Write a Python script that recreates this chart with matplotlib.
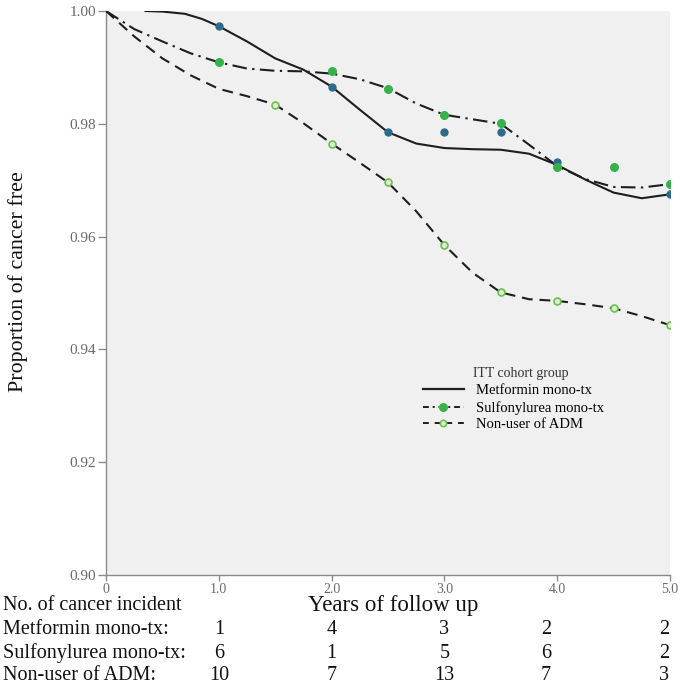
import matplotlib
matplotlib.use("Agg")
import matplotlib.pyplot as plt
from matplotlib.lines import Line2D
from matplotlib.transforms import blended_transform_factory

# observed proportions (dots)
met_x = [1.0, 2.0, 2.5, 3.0, 3.5, 4.0, 5.0]
met_y = [0.9973, 0.9866, 0.9785, 0.9785, 0.9785, 0.9732, 0.9675]
sul_x = [1.0, 2.0, 2.5, 3.0, 3.5, 4.0, 4.5, 5.0]
sul_y = [0.9909, 0.9893, 0.9862, 0.9816, 0.9802, 0.9723, 0.9723, 0.9693]
non_x = [1.5, 2.0, 2.5, 3.0, 3.5, 4.0, 4.5, 5.0]
non_y = [0.9834, 0.9765, 0.9696, 0.9585, 0.9501, 0.9486, 0.9473, 0.9443]

# fitted curves
met_cx = [0.35, 0.5, 0.7, 0.85, 1.0, 1.25, 1.5, 1.75, 2.0, 2.25, 2.5, 2.75,
          3.0, 3.25, 3.5, 3.75, 4.0, 4.25, 4.5, 4.75, 5.0]
met_cy = [1.0, 0.9999, 0.9995, 0.9986, 0.9973, 0.9946, 0.9916, 0.9896, 0.9866,
          0.9825, 0.9785, 0.9765, 0.9757, 0.9755, 0.9754, 0.9747, 0.9727,
          0.9701, 0.9678, 0.9668, 0.9675]
sul_cx = [0, 0.25, 0.5, 0.75, 1.0, 1.25, 1.5, 1.75, 2.0, 2.25, 2.5, 2.75,
          3.0, 3.25, 3.5, 3.75, 4.0, 4.25, 4.5, 4.75, 5.0]
sul_cy = [1.0, 0.9968, 0.9946, 0.9925, 0.9909, 0.9898, 0.9894, 0.9893, 0.9889,
          0.9879, 0.9863, 0.9836, 0.9816, 0.9808, 0.9800, 0.9763, 0.9725,
          0.9702, 0.9688, 0.9687, 0.9693]
non_cx = [0, 0.25, 0.5, 0.75, 1.0, 1.25, 1.5, 1.75, 2.0, 2.25, 2.5, 2.75,
          3.0, 3.25, 3.5, 3.75, 4.0, 4.25, 4.5, 4.75, 5.0]
non_cy = [1.0, 0.9955, 0.9916, 0.9886, 0.9862, 0.9849, 0.9834, 0.9801, 0.9765,
          0.9731, 0.9696, 0.9645, 0.9585, 0.9536, 0.9501, 0.9489, 0.9486,
          0.9480, 0.9473, 0.9459, 0.9443]

# number-at-risk style table under the axis
row_labels = ["Metformin mono-tx:", "Sulfonylurea mono-tx:", "Non-user of ADM:"]
met_counts = [1, 4, 3, 2, 2]
sul_counts = [6, 1, 5, 6, 2]
non_counts = [10, 7, 13, 7, 3]
count_pos = [1.0, 2.0, 3.0, 3.9, 4.95]

xticks = [0, 1, 2, 3, 4, 5]
xtick_labels = ["0", "1.0", "2.0", "3.0", "4.0", "5.0"]
yticks = [0.90, 0.92, 0.94, 0.96, 0.98, 1.00]

SERIF = "Liberation Serif"
INK = "#1e1e1e"
BLUE = "#2c6b8c"
GREEN = "#35b34a"
LGREEN = "#6cbf4e"

W, H = 685, 696
fig = plt.figure(figsize=(W / 100, H / 100), dpi=100)
ax = fig.add_axes([106 / W, 1 - 575 / H, 564 / W, 564 / H])
ax.set_facecolor("#f0f0f0")

ax.plot(met_cx, met_cy, color=INK, lw=1.5, zorder=3)
ax.plot(sul_cx, sul_cy, color=INK, lw=1.5, dashes=(7, 2.6, 1.1, 2.6), zorder=3)
ax.plot(non_cx, non_cy, color=INK, lw=1.5, dashes=(5.2, 3.3), zorder=3)

ax.plot(met_x, met_y, "o", ms=5, color=BLUE, mec=BLUE, zorder=4)
ax.plot(sul_x, sul_y, "o", ms=5.5, color=GREEN, mec=GREEN, zorder=4)
ax.plot(non_x, non_y, "o", ms=5, mfc="#dbeccf", mec=LGREEN, mew=1.2, zorder=4)

ax.set_xlim(0, 5)
ax.set_ylim(0.90, 1.00)
ax.set_xticks(xticks)
ax.set_xticklabels(xtick_labels)
ax.set_yticks(yticks)
ax.yaxis.set_major_formatter(lambda v, _: f"{v:.2f}")
for s in ("top", "right"):
    ax.spines[s].set_visible(False)
for s in ("left", "bottom"):
    ax.spines[s].set_color("#8a8a8a")
    ax.spines[s].set_linewidth(1.0)
ax.tick_params(axis="y", length=6, width=1, color="#8a8a8a", pad=1,
               labelsize=11, labelcolor="#6a6a6a")
ax.tick_params(axis="x", length=4, width=1, color="#8a8a8a", pad=2,
               labelsize=10, labelcolor="#6a6a6a")
for lab in ax.get_xticklabels() + ax.get_yticklabels():
    lab.set_family(SERIF)

# legend
handles = [
    Line2D([], [], color=INK, lw=1.6),
    Line2D([], [], color=INK, lw=1.4, dashes=(3, 2, 1, 2),
           marker="o", ms=5.5, mfc=GREEN, mec=GREEN),
    Line2D([], [], color=INK, lw=1.4, dashes=(3, 3),
           marker="o", ms=4.5, mfc="#dbeccf", mec=LGREEN, mew=1.2),
]
labels = ["Metformin mono-tx", "Sulfonylurea mono-tx", "Non-user of ADM"]
ax.legend(handles, labels, loc="upper left", frameon=False,
          bbox_to_anchor=(423 / W, 1 - 384 / H), bbox_transform=fig.transFigure,
          borderpad=0, borderaxespad=0, handlelength=2.8, handletextpad=0.8,
          labelspacing=0.25, prop={"family": SERIF, "size": 10.5})
fig.text(473 / W, 1 - 374 / H, "ITT cohort group", family=SERIF, fontsize=10,
         color="#333333", ha="left", va="center")

fig.text(18 / W, 1 - 282 / H, "Proportion of cancer free", family=SERIF,
         fontsize=15.8, rotation=90, ha="center", va="center", color="#111111")
fig.text(393 / W, 1 - 605 / H, "Years of follow up", family=SERIF,
         fontsize=16.5, ha="center", va="center", color="#111111")

# table below the x axis
tr = blended_transform_factory(ax.transData, fig.transFigure)
fig.text(3 / W, 1 - 605 / H, "No. of cancer incident", family=SERIF,
         fontsize=14.5, ha="left", va="center", color="#111111")
rows_y = [630, 653, 676]
for lab, counts, py in zip(row_labels, [met_counts, sul_counts, non_counts], rows_y):
    fig.text(3 / W, 1 - py / H, lab, family=SERIF, fontsize=14.5,
             ha="left", va="center", color="#111111")
    for xp, c in zip(count_pos, counts):
        ax.text(xp, 1 - py / H, str(c), transform=tr, family=SERIF, fontsize=14.5,
                ha="center", va="center", color="#111111", clip_on=False)

fig.savefig("out.png", dpi=100)
